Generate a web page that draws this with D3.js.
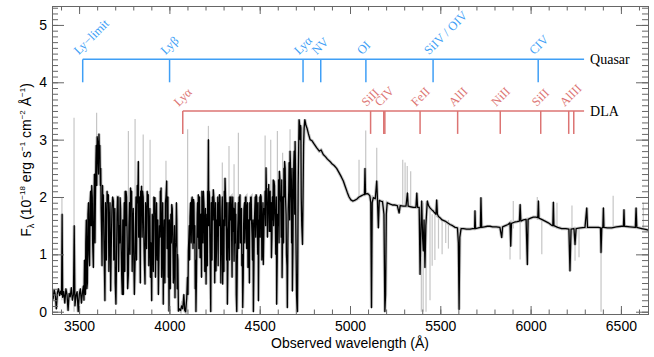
<!DOCTYPE html>
<html>
<head>
<meta charset="utf-8">
<script src="https://cdn.jsdelivr.net/npm/d3@7"></script>
<style>
  body { margin: 0; background: #fff; }
  svg { display: block; }
  .tick text { font-family: "Liberation Sans", Arial, sans-serif; font-size: 14px; fill: #000; }
</style>
</head>
<body>
<svg id="chart"></svg>
<script>
// black (smoothed) spectrum: [wavelength in A, flux in 1e-18 erg/s/cm2/A]
const spectrum = [
  [3350,0.35],[3356,0.22],[3362,0.38],[3368,0.3],[3374,0.05],[3380,0.33],[3386,0.4],[3392,0.28],[3398,0.36],[3403,0.3],
  [3406,1.7],[3409,0.25],[3415,0.35],[3421,0.15],[3427,0.4],[3433,0.3],[3439,0.02],[3445,0.32],[3451,0.26],[3457,0.42],
  [3463,0.2],[3469,0.3],[3473,1.5],[3477,0.1],[3483,0.28],[3489,0.35],[3495,0.0],[3501,0.3],[3507,0.4],[3513,0.15],
  [3519,0.35],[3524,0.45],[3530,0.9],[3535,0.3],[3540,1.6],[3546,0.5],[3552,1.9],[3558,0.8],[3564,2.1],[3570,2.2],
  [3575,1.2],[3579,0.77],[3585,2.4],[3590,1.9],[3595,2.9],[3600,3.05],[3605,2.7],[3610,3.1],[3615,2.9],[3620,2.5],
  [3625,1.35],[3630,2.2],[3634,2.04],[3638,1.1],[3643,0.19],[3648,1.6],[3655,2.1],[3662,2.04],[3668,1.4],[3675,0.36],
  [3682,1.8],[3690,1.93],[3695,1.2],[3700,0.5],[3704,0.13],[3710,1.7],[3716,2.0],[3722,1.5],[3727,1.99],[3733,1.1],
  [3739,0.3],[3745,0.3],[3750,1.9],[3755,2.1],[3760,2.1],[3766,1.3],[3773,0.65],[3779,1.9],[3785,2.16],[3791,2.1],
  [3797,1.5],[3803,0.9],[3810,0.88],[3815,2.0],[3822,2.2],[3828,2.62],[3832,1.9],[3837,1.2],[3841,2.1],[3846,2.19],
  [3852,2.1],[3858,1.4],[3865,0.48],[3871,1.7],[3877,2.1],[3883,2.04],[3889,1.3],[3895,0.6],[3902,0.19],[3908,1.6],
  [3914,2.0],[3920,1.99],[3926,1.4],[3932,0.9],[3939,0.3],[3945,1.5],[3950,2.1],[3954,2.16],[3960,1.3],[3966,0.13],
  [3972,1.6],[3978,1.9],[3985,2.28],[3990,1.5],[3994,0.6],[3998,0.01],[4003,1.0],[4008,1.7],[4013,1.87],[4019,1.3],
  [4025,0.8],[4031,0.24],[4036,1.2],[4041,1.6],[4045,1.0],[4050,0.01],[4056,0.05],[4062,0.02],[4068,0.1],[4074,0.05],
  [4080,0.3],[4085,0.02],[4090,0.0],[4096,0.24],[4100,0.6],[4105,1.06],[4110,1.5],[4114,1.64],[4119,1.8],[4123,1.93],
  [4128,1.6],[4133,1.96],[4138,1.2],[4143,0.4],[4147,0.0],[4152,1.2],[4156,1.9],[4160,2.04],[4165,1.8],[4170,0.94],
  [4175,1.7],[4180,2.1],[4184,2.0],[4188,2.1],[4193,1.6],[4198,1.1],[4203,0.48],[4208,1.7],[4212,2.1],[4216,3.0],
  [4220,2.1],[4224,1.3],[4229,0.0],[4234,1.3],[4238,2.0],[4243,2.13],[4248,1.9],[4253,1.3],[4258,0.71],[4263,1.6],
  [4268,2.0],[4272,1.9],[4277,2.04],[4282,1.6],[4287,1.0],[4291,1.8],[4295,0.48],[4300,1.6],[4304,2.1],[4308,2.33],
  [4313,1.8],[4317,0.9],[4321,0.13],[4326,1.4],[4330,1.9],[4335,2.0],[4339,1.99],[4344,1.5],[4349,1.8],[4354,1.4],
  [4358,0.88],[4362,1.6],[4366,1.2],[4370,0.3],[4373,0.0],[4378,1.4],[4382,1.9],[4386,2.0],[4391,2.04],[4396,1.6],
  [4401,0.8],[4406,0.07],[4411,1.5],[4416,1.9],[4421,1.99],[4426,1.5],[4430,1.8],[4435,0.77],[4440,1.6],[4445,1.9],
  [4450,1.99],[4455,1.6],[4460,0.9],[4465,0.0],[4470,1.5],[4475,2.0],[4480,2.04],[4485,1.6],[4489,1.0],[4493,0.19],
  [4497,1.6],[4501,2.0],[4505,2.04],[4510,1.7],[4515,1.2],[4520,0.82],[4525,1.8],[4530,2.1],[4535,2.51],[4540,2.15],
  [4545,1.8],[4550,2.22],[4555,1.9],[4560,1.4],[4565,0.94],[4570,2.0],[4575,2.3],[4579,2.28],[4584,1.8],[4589,1.0],
  [4594,0.13],[4599,1.7],[4604,2.3],[4609,2.45],[4614,2.0],[4619,1.3],[4624,0.59],[4629,2.0],[4634,2.5],[4638,2.62],
  [4643,2.0],[4648,1.0],[4653,0.07],[4658,1.8],[4663,2.6],[4668,2.8],[4672,2.2],[4677,1.2],[4681,0.36],[4686,2.0],
  [4691,2.8],[4696,2.97],[4700,1.5],[4704,0.3],[4709,0.0],[4713,2.2],[4718,3.35],[4722,3.2],[4726,3.25],[4730,2.0],
  [4737,1.17],[4743,2.9],[4750,3.35],[4756,3.25],[4762,3.2],[4770,3.1],[4779,3.0],[4790,2.98],[4800,2.93],[4815,2.86],
  [4830,2.8],[4840,2.82],[4852,2.74],[4865,2.7],[4875,2.66],[4889,2.62],[4900,2.58],[4912,2.55],[4926,2.5],[4940,2.42],
  [4952,2.35],[4963,2.28],[4975,2.17],[4985,2.08],[4995,2.0],[5005,1.95],[5015,1.93],[5025,1.94],[5037,1.96],[5050,2.0],
  [5062,2.02],[5074,2.04],[5080,2.04],[5083,2.5],[5086,2.05],[5095,2.06],[5102,2.05],[5110,2.02],[5115,1.9],[5119,0.07],
  [5123,1.9],[5129,1.99],[5140,1.97],[5148,2.28],[5152,1.96],[5157,1.46],[5162,1.94],[5170,1.93],[5180,1.92],[5188,1.7],
  [5193,0.0],[5197,0.3],[5201,1.7],[5206,1.9],[5220,1.88],[5235,1.86],[5250,1.86],[5262,1.85],[5272,1.72],[5278,1.85],
  [5295,1.84],[5310,1.84],[5318,2.07],[5322,1.84],[5335,1.83],[5350,1.82],[5365,1.82],[5370,2.07],[5374,1.82],[5383,1.82],
  [5388,0.65],[5393,1.5],[5397,1.93],[5402,1.3],[5406,1.06],[5410,1.6],[5415,0.77],[5420,1.5],[5428,1.93],[5435,1.85],
  [5443,1.81],[5452,1.78],[5462,1.75],[5470,1.72],[5476,1.7],[5480,1.95],[5484,1.7],[5490,1.66],[5498,1.64],[5510,1.6],
  [5526,1.58],[5540,1.55],[5554,1.52],[5568,1.5],[5582,1.47],[5595,1.46],[5600,1.2],[5604,0.04],[5608,1.3],[5615,1.45],
  [5628,1.45],[5645,1.44],[5665,1.44],[5680,1.45],[5690,1.45],[5692,1.76],[5695,1.45],[5710,1.46],[5722,1.47],[5725,1.99],
  [5729,1.47],[5745,1.48],[5760,1.49],[5775,1.49],[5790,1.48],[5810,1.48],[5830,1.47],[5840,1.29],[5845,1.48],[5860,1.5],
  [5875,1.52],[5886,1.55],[5890,1.14],[5894,1.54],[5910,1.56],[5925,1.57],[5938,1.58],[5942,1.87],[5946,1.58],[5960,1.6],
  [5975,1.61],[5982,0.82],[5986,1.61],[6000,1.63],[6015,1.65],[6030,1.65],[6040,1.64],[6043,1.93],[6046,1.63],[6061,1.61],
  [6080,1.58],[6098,1.55],[6115,1.51],[6123,1.5],[6126,1.91],[6129,1.5],[6150,1.47],[6172,1.45],[6195,1.45],[6212,1.44],
  [6218,0.71],[6224,1.44],[6240,1.45],[6246,1.17],[6252,1.45],[6275,1.46],[6301,1.47],[6311,1.81],[6315,1.47],[6335,1.47],
  [6357,1.47],[6375,1.47],[6387,1.46],[6390,1.03],[6394,1.46],[6400,1.47],[6403,1.81],[6406,1.47],[6425,1.46],[6449,1.46],
  [6475,1.48],[6504,1.49],[6514,1.49],[6517,1.78],[6520,1.49],[6550,1.48],[6580,1.47],[6584,1.81],[6588,1.47],[6615,1.45],
  [6643,1.43],[6650,1.42]
];

// extra narrow forest absorbers read between the points above
const forestExtra = [
  [3527,0.2],[3537,1.2],[3543,0.4],[3549,1.7],[3555,1.0],[3561,1.9],[3567,1.5],[3573,2.0],[3582,1.8],[3588,1.2],
  [3593,2.6],[3598,2.2],[3603,2.95],[3608,2.4],[3612,2.8],[3618,2.2],[3622,1.8],[3627,0.8],[3632,1.7],[3636,1.6],
  [3641,0.6],[3646,1.9],[3651,0.9],[3658,1.9],[3665,0.7],[3671,1.9],[3678,1.1],[3686,2.0],[3692,0.9],[3698,1.8],
  [3707,0.8],[3713,2.0],[3719,0.7],[3725,1.2],[3730,1.8],[3736,0.6],[3742,1.6],[3747,1.2],[3753,0.7],[3758,1.5],
  [3763,2.0],[3769,0.4],[3776,1.5],[3782,1.0],[3788,2.0],[3794,0.7],[3800,1.8],[3806,0.3],[3812,1.5],[3818,0.9],
  [3825,1.9],[3830,1.3],[3835,2.0],[3839,0.5],[3843,1.8],[3849,1.3],[3855,2.0],[3861,0.9],[3868,1.9],[3874,1.1],
  [3880,1.9],[3886,0.8],[3892,1.8],[3898,1.2],[3905,1.7],[3911,0.7],[3917,1.8],[3923,0.6],[3929,1.9],[3936,1.6],
  [3942,0.9],[3948,1.3],[3952,1.9],[3957,0.6],[3963,1.9],[3969,1.2],[3975,0.5],[3981,2.0],[3987,1.1],[3992,2.0],
  [3996,0.9],[4000,1.6],[4005,0.4],[4011,1.2],[4016,1.8],[4022,0.5],[4028,1.5],[4033,1.1],[4039,1.9],[4043,0.4],
  [4047,0.9],[4103,0.3],[4108,1.3],[4112,0.9],[4117,1.9],[4121,1.2],[4126,2.0],[4131,1.1],[4136,1.9],[4141,1.5],
  [4145,0.9],[4150,0.6],[4154,1.7],[4158,1.3],[4163,1.1],[4167,2.0],[4172,1.5],[4178,0.6],[4182,1.6],[4186,1.2],
  [4191,1.9],[4196,0.7],[4200,1.8],[4206,1.2],[4210,0.8],[4214,1.9],[4218,1.5],[4222,2.0],[4227,0.6],[4232,1.9],
  [4236,0.9],[4241,1.6],[4246,2.0],[4251,0.5],[4256,1.9],[4261,1.1],[4266,1.6],[4270,0.8],[4275,1.5],[4280,2.0],
  [4285,0.5],[4289,1.3],[4293,2.0],[4298,1.2],[4302,0.7],[4306,1.5],[4311,2.0],[4315,1.4],[4319,1.9],[4324,0.8],
  [4328,1.5],[4333,0.9],[4337,1.6],[4342,2.0],[4347,0.6],[4351,2.0],[4356,1.8],[4360,1.3],[4364,1.9],[4368,1.7],
  [4376,0.9],[4380,1.6],[4384,1.1],[4389,1.7],[4393,1.2],[4399,1.8],[4404,1.0],[4409,0.6],[4413,1.8],[4418,1.2],
  [4424,2.0],[4428,1.1],[4433,1.9],[4438,1.3],[4443,0.5],[4448,1.6],[4453,2.0],[4458,1.3],[4463,1.6],[4468,0.8],
  [4473,1.8],[4478,1.3],[4483,2.0],[4487,1.4],[4491,1.9],[4495,1.1],[4499,1.4],[4503,1.3],[4508,2.0],[4512,0.9],
  [4518,1.9],[4523,1.4],[4528,1.7],[4533,1.5],[4538,2.0],[4543,1.3],[4548,1.9],[4553,1.4],[4558,2.1],[4563,1.9],
  [4568,1.3],[4573,1.6],[4577,1.5],[4582,2.2],[4587,1.5],[4592,2.0],[4597,0.9],[4602,1.5],[4607,1.2],[4612,2.3],
  [4617,1.9],[4622,2.3],[4627,1.4],[4632,1.2],[4636,2.0],[4641,2.5],[4646,1.7],[4651,0.8],[4656,1.2],[4661,2.1],
  [4666,1.6],[4670,2.6],[4675,1.9],[4679,2.5],[4684,1.1],[4689,2.6],[4694,1.7],[4698,2.5],[4702,0.9],[4707,0.05],
  [4711,1.0],[4716,2.9],[4720,3.3],[4724,3.0],[4728,3.2],[4733,1.5],[4740,2.0],[4746,3.2],[4753,3.3]
];

// grey (unsmoothed) spikes: [wavelength, low flux, high flux]
const greySpikes = [
  [3405,0.2,2.0],[3472,0,3.38],[3597,2.5,3.47],[3773,1.5,3.15],[3810,1.5,3.36],[3855,1.5,3.09],[3893,1.5,3.0],
  [3981,1.0,2.63],[4101,0,3.18],[4216,1.8,3.24],[4293,1.2,2.6],[4330,1.5,2.89],[4358,1.2,2.57],[4382,1.5,3.12],
  [4530,1.8,3.07],[4561,1.8,3.0],[4598,1.8,3.15],[4627,1.8,2.77],[4668,2.0,3.18],
  [5050,1.95,2.65],[5087,2.05,3.16],[5148,1.95,2.86],[5292,1.85,2.65],[5305,1.85,2.6],[5317,1.85,2.54],[5336,1.83,2.45],
  [5395,0,1.8],[5405,0,1.9],[5421,0,1.9],[5443,0.2,1.8],[5455,0.8,1.7],[5470,0.9,1.75],[5490,1.1,1.7],
  [5510,1.0,1.6],[5530,1.2,1.6],[5545,1.1,1.6],[5886,0.91,1.5],[5904,1.45,1.93],[5942,0.91,1.6],[6037,1.6,2.0],
  [6062,1.0,1.6],[6146,1.45,1.9],[6229,1.45,1.85],[6246,0.89,1.45],[6268,0.95,1.45],[6390,0,1.45],[6457,1.45,2.02],
  [6624,1.45,1.9]
];

// line identifications
const quasarNames = ["Ly\u2212limit", "Ly\u03b2", "Ly\u03b1", "NV", "OI", "SiIV / OIV", "CIV"];
const quasarWaves = [3520, 4001, 4740, 4838, 5088, 5460, 6042];
const dlaNames = ["Ly\u03b1", "SiII", "CIV", "", "FeII", "AlII", "NiII", "SiII", "AlIII", ""];
const dlaWaves = [4074, 5114, 5187, 5193, 5388, 5596, 5832, 6056, 6211, 6239];
const quasarLevel = [4.4, 4.0];
const dlaLevel = [3.5, 3.1];
const markerEnd = 6296;

const margin = { top: 6, right: 6, bottom: 43, left: 52 };
const width = 654 - margin.left - margin.right;
const height = 357 - margin.top - margin.bottom;

const blue = "#3f9ff6";
const red = "#dc7473";
const frame = "#666";

const svg = d3.select("#chart").attr("width", 654).attr("height", 357);
const g = svg.append("g").attr("transform", `translate(${margin.left},${margin.top})`);

const x = d3.scaleLinear().domain([3350, 6650]).range([0, width]);
const y = d3.scaleLinear().domain([-0.04, 5.33]).range([height, 0]);

const allPoints = spectrum.concat(forestExtra).sort((a, b) => a[0] - b[0]);

g.append("clipPath").attr("id", "clip")
  .append("rect").attr("width", width).attr("height", height);

const plot = g.append("g").attr("clip-path", "url(#clip)");

const line = d3.line().x((d) => x(d[0])).y((d) => y(d[1]));

// grey raw spectrum underneath
plot.append("path")
  .datum(allPoints)
  .attr("d", line)
  .attr("fill", "none")
  .attr("stroke", "#c6c6c6")
  .attr("stroke-width", 3.2);

plot.selectAll(".spike")
  .data(greySpikes)
  .join("line")
  .attr("class", "spike")
  .attr("x1", (d) => x(d[0])).attr("x2", (d) => x(d[0]))
  .attr("y1", (d) => y(d[1])).attr("y2", (d) => y(d[2]))
  .attr("stroke", "#c6c6c6")
  .attr("stroke-width", 1.2);

plot.append("path")
  .datum(allPoints)
  .attr("d", line)
  .attr("fill", "none")
  .attr("stroke", "#000")
  .attr("stroke-width", 1.3)
  .attr("stroke-linejoin", "round");

// line markers
function drawMarkers(names, waves, level, color, label) {
  const m = g.append("g");
  m.append("line")
    .attr("x1", x(waves[0])).attr("x2", x(markerEnd))
    .attr("y1", y(level[0])).attr("y2", y(level[0]))
    .attr("stroke", color).attr("stroke-width", 1.5);
  m.selectAll(".mk")
    .data(waves)
    .join("line")
    .attr("x1", (d) => x(d)).attr("x2", (d) => x(d))
    .attr("y1", y(level[0])).attr("y2", y(level[1]))
    .attr("stroke", color).attr("stroke-width", 1.5);
  m.selectAll(".lab")
    .data(waves.map((w, i) => [w, names[i]]).filter((d) => d[1]))
    .join("text")
    .attr("transform", (d) => `translate(${x(d[0]) - 4},${y(level[0]) - 4}) rotate(-45)`)
    .style("font-family", "'Liberation Serif', 'Times New Roman', serif")
    .style("font-size", "12.5px")
    .attr("fill", color)
    .text((d) => d[1]);
  m.append("text")
    .attr("x", x(markerEnd) + 6)
    .attr("y", y(level[0]) + 5)
    .style("font-family", "'Liberation Serif', 'Times New Roman', serif")
    .style("font-size", "14px")
    .attr("fill", "#000")
    .text(label);
}

drawMarkers(quasarNames, quasarWaves, quasarLevel, blue, "Quasar");
drawMarkers(dlaNames, dlaWaves, dlaLevel, red, "DLA");

// axes, IDL style with inward ticks on all four sides
function styleAxis(sel) {
  sel.select(".domain").attr("stroke", frame);
  sel.selectAll(".tick line").attr("stroke", frame);
}

const xMinor = d3.range(3400, 6700, 100);
const yMinor = d3.range(0, 5.35, 0.1);
const xMajor = [3500, 4000, 4500, 5000, 5500, 6000, 6500];
const yMajor = [0, 1, 2, 3, 4, 5];

g.append("g").attr("transform", `translate(0,${height})`)
  .call(d3.axisBottom(x).tickValues(xMinor).tickSize(-4.5).tickFormat(""))
  .call(styleAxis);
g.append("g").attr("transform", `translate(0,${height})`)
  .call(d3.axisBottom(x).tickValues(xMajor).tickSize(-8).tickPadding(7).tickFormat(d3.format("d")))
  .call(styleAxis);
g.append("g")
  .call(d3.axisTop(x).tickValues(xMinor).tickSize(-4.5).tickFormat(""))
  .call(styleAxis);
g.append("g")
  .call(d3.axisTop(x).tickValues(xMajor).tickSize(-8).tickFormat(""))
  .call(styleAxis);

g.append("g")
  .call(d3.axisLeft(y).tickValues(yMinor).tickSize(-6).tickFormat(""))
  .call(styleAxis);
g.append("g")
  .call(d3.axisLeft(y).tickValues(yMajor).tickSize(-12).tickPadding(5).tickFormat(d3.format("d")))
  .call(styleAxis);
g.append("g").attr("transform", `translate(${width},0)`)
  .call(d3.axisRight(y).tickValues(yMinor).tickSize(-6).tickFormat(""))
  .call(styleAxis);
g.append("g").attr("transform", `translate(${width},0)`)
  .call(d3.axisRight(y).tickValues(yMajor).tickSize(-12).tickFormat(""))
  .call(styleAxis);

// axis titles
svg.append("text")
  .attr("x", margin.left + width / 2)
  .attr("y", 348)
  .attr("text-anchor", "middle")
  .style("font-family", "'Liberation Sans', Arial, sans-serif")
  .style("font-size", "14px")
  .text("Observed wavelength  (\u00c5)");

const yt = svg.append("text")
  .attr("transform", `translate(31,${margin.top + height / 2}) rotate(-90)`)
  .attr("text-anchor", "middle")
  .style("font-family", "'Liberation Sans', Arial, sans-serif")
  .style("font-size", "14px");
yt.append("tspan").text("F");
yt.append("tspan").attr("dy", 3).style("font-size", "9px").text("\u03bb");
yt.append("tspan").attr("dy", -3).text("  (10");
yt.append("tspan").attr("dy", -6).style("font-size", "8px").text("\u221218");
yt.append("tspan").attr("dy", 6).text(" erg s");
yt.append("tspan").attr("dy", -6).style("font-size", "8px").text("\u22121");
yt.append("tspan").attr("dy", 6).text(" cm");
yt.append("tspan").attr("dy", -6).style("font-size", "8px").text("\u22122");
yt.append("tspan").attr("dy", 6).text(" \u00c5");
yt.append("tspan").attr("dy", -6).style("font-size", "8px").text("\u22121");
yt.append("tspan").attr("dy", 6).text(")");
</script>
</body>
</html>
